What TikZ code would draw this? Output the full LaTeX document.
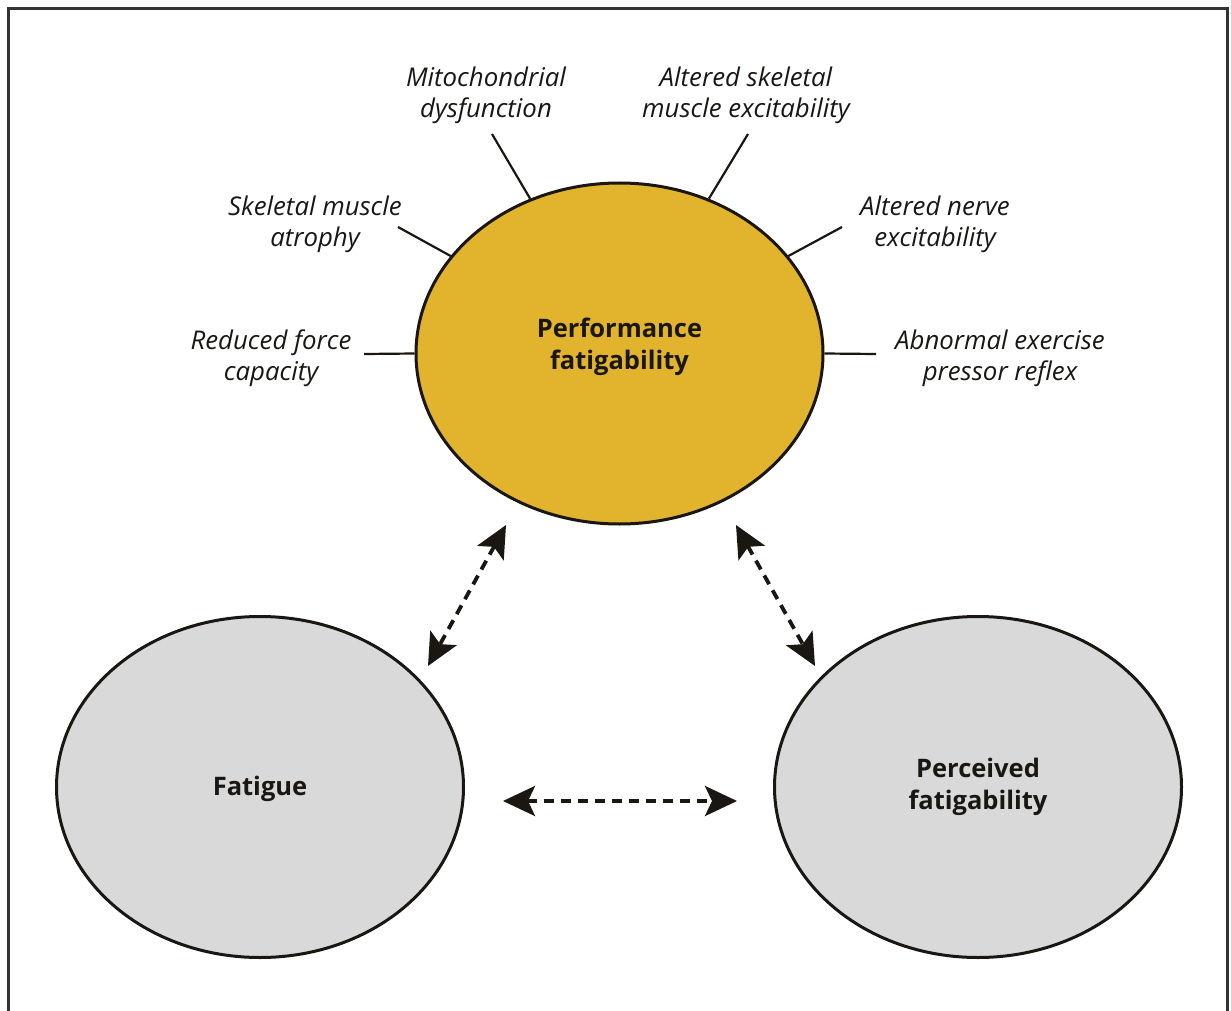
\documentclass[tikz,border=0pt]{standalone}
\usepackage{fontspec}
\setmainfont{Open Sans}
\usetikzlibrary{shapes.geometric,arrows.meta}
\definecolor{perfyellow}{RGB}{226,179,44}
\definecolor{circgray}{RGB}{217,217,217}
\definecolor{ink}{RGB}{26,22,18}
\tikzset{
  blob/.style={ellipse, draw=ink, line width=3pt, minimum width=407pt, minimum height=341pt, inner sep=0pt},
  heading/.style={align=center, font=\fontsize{25.5}{32}\selectfont\bfseries, text=ink, inner sep=0pt},
  cause/.style={align=center, font=\fontsize{25.8}{31}\selectfont\itshape, text=ink, inner sep=0pt},
  spoke/.style={draw=ink, line width=2.2pt},
  dasharrow/.style={draw=ink, line width=3.8pt, dash pattern=on 10pt off 7pt, {Stealth[length=32pt,width=30pt,inset=7pt]}-{Stealth[length=32pt,width=30pt,inset=7pt]}}
}
\begin{document}
\begin{tikzpicture}[x=1pt,y=-1pt]
\useasboundingbox (0,0) rectangle (1231,1011);
\clip (0,0) rectangle (1231,1011);
\draw[black!80, line width=2.2pt] (8.5,8.5) rectangle (1227.5,1030);

\node[blob, fill=perfyellow] (perf) at (619.5,353.5) {};
\node[blob, fill=circgray] (fat) at (260,787) {};
\node[blob, fill=circgray] (perc) at (978,787) {};

\node[heading] (perft) at (619.5,346.5) {Performance\\fatigability};
\node[heading] (fatt) at (260,789) {Fatigue};
\node[heading] (perct) at (978,787) {Perceived\\fatigability};

\node[cause] (rf) at (271,358.5) {Reduced force\\capacity};
\node[cause] (sm) at (315,224.5) {Skeletal muscle\\atrophy};
\node[cause] (mi) at (486,95.5) {Mitochondrial\\dysfunction};
\node[cause] (as) at (746,95.5) {Altered skeletal\\muscle excitability};
\node[cause] (an) at (935,224.5) {Altered nerve\\excitability};
\node[cause] (ab) at (1000,358.5) {Abnormal exercise\\pressor reflex};

\coordinate (rfend) at (364,354);
\coordinate (smend) at (398,227);
\coordinate (miend) at (492,134);
\coordinate (asend) at (748,134);
\coordinate (anend) at (842,227);
\coordinate (abend) at (876,354);

\draw[spoke] (rfend) -- (perf.180);
\draw[spoke] (smend) -- (perf.150);
\draw[spoke] (miend) -- (perf.120);
\draw[spoke] (asend) -- (perf.60);
\draw[spoke] (anend) -- (perf.30);
\draw[spoke] (abend) -- (perf.0);

\coordinate (l1) at (506,525);
\coordinate (l2) at (428,666);
\coordinate (r1) at (736,525);
\coordinate (r2) at (815,666);
\coordinate (h1) at (503,801);
\coordinate (h2) at (737,801);
\draw[dasharrow] (l1) -- (l2);
\draw[dasharrow] (r1) -- (r2);
\draw[dasharrow] (h1) -- (h2);
\end{tikzpicture}
\end{document}
